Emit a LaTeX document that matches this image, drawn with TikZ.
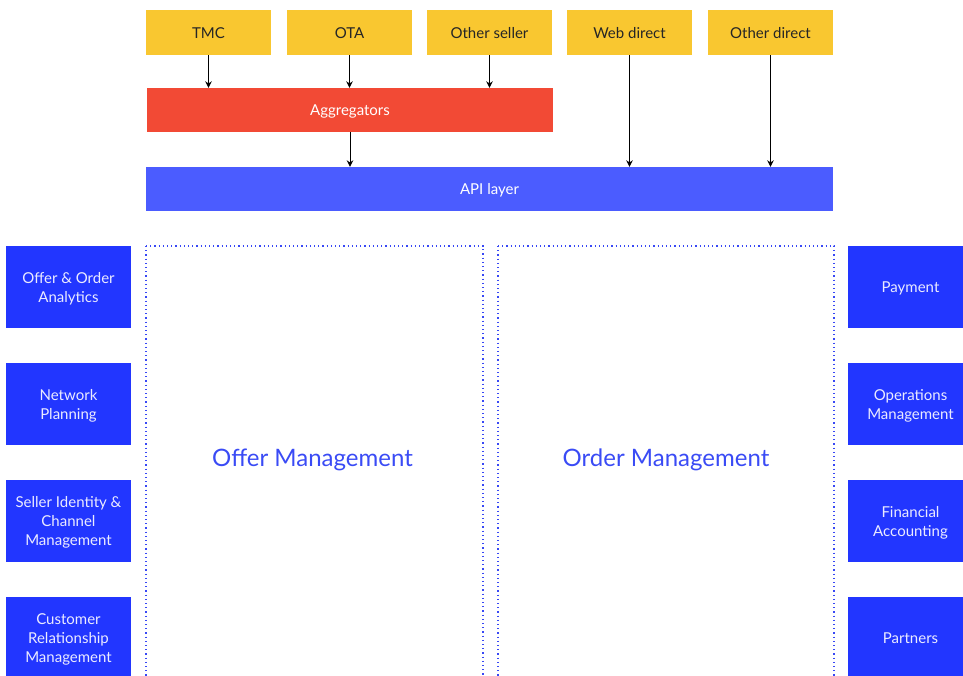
\documentclass[tikz,border=0pt]{standalone}
\usepackage{fontspec}
\setmainfont{Lato}
\usetikzlibrary{arrows.meta}
\definecolor{cyellow}{HTML}{F9C730}
\definecolor{cred}{HTML}{F24A35}
\definecolor{capi}{HTML}{4B5CFF}
\definecolor{cdark}{HTML}{2236FF}
\definecolor{cdot}{HTML}{3848F5}
\definecolor{cbig}{HTML}{3A4BF5}
\tikzset{
  ybox/.style={fill=cyellow, minimum width=125pt, minimum height=45pt, inner sep=0pt, text height=11pt, text depth=0pt, text=black!85, font=\fontsize{15}{19}\selectfont},
  bar/.style={minimum height=44pt, inner sep=0pt, text height=11pt, text depth=0pt, text=white, font=\fontsize{15}{19}\selectfont},
  sidebox/.style={fill=cdark, minimum width=125pt, minimum height=82pt, inner sep=0pt, text depth=0pt, text=white!92!blue, align=center, font=\fontsize{15}{19}\selectfont},
  dotbox/.style={draw=cdot, line width=1.5pt, dash pattern=on 1.2pt off 3pt},
  arr/.style={-{Stealth[length=6.5pt,width=6.5pt]}, line width=1pt, black},
  bigtext/.style={text=cbig, text depth=0pt, font=\fontsize{24}{28}\selectfont}
}
\begin{document}
\begin{tikzpicture}[x=1pt,y=-1pt]
\useasboundingbox (0,0) rectangle (963,675);
\clip (0,0) rectangle (963,675);
% top sellers
\node[ybox] (tmc) at (208.5,32.5) {TMC};
\node[ybox] (ota) at (349.5,32.5) {OTA};
\node[ybox] (oth) at (489.5,32.5) {Other seller};
\node[ybox] (web) at (629.5,32.5) {Web direct};
\node[ybox] (odir) at (770.5,32.5) {Other direct};
% bars
\node[bar, fill=cred, minimum width=406pt] (agg) at (350,110) {Aggregators};
\node[bar, fill=capi, minimum width=687pt] (api) at (489.5,189) {API layer};
% arrows
\draw[arr] (tmc.south) -- (tmc.south |- agg.north);
\draw[arr] (ota.south) -- (ota.south |- agg.north);
\draw[arr] (oth.south) -- (oth.south |- agg.north);
\draw[arr] (web.south) -- (web.south |- api.north);
\draw[arr] (odir.south) -- (odir.south |- api.north);
\draw[arr] (agg.south) -- (agg.south |- api.north);
% dotted areas
\draw[dotbox] (146,246) -- (483,246) -- (483,700);
\draw[dotbox] (146,246) -- (146,700);
\draw[dotbox] (498,246) -- (834,246) -- (834,700);
\draw[dotbox] (498,246) -- (498,700);
\node[bigtext] (offer) at (312.5,458) {Offer Management};
\node[bigtext] (order) at (666,458) {Order Management};
% left boxes
\node[sidebox] (l1) at (68.5,287) {Offer \& Order\\Analytics};
\node[sidebox] (l2) at (68.5,404) {Network\\Planning};
\node[sidebox] (l3) at (68.5,521) {Seller Identity \&\\Channel\\Management};
\node[sidebox] (l4) at (68.5,638) {Customer\\Relationship\\Management};
% right boxes
\node[sidebox] (r1) at (910.5,287) {Payment};
\node[sidebox] (r2) at (910.5,404) {Operations\\Management};
\node[sidebox] (r3) at (910.5,521) {Financial\\Accounting};
\node[sidebox] (r4) at (910.5,638) {Partners};
\end{tikzpicture}
\end{document}
